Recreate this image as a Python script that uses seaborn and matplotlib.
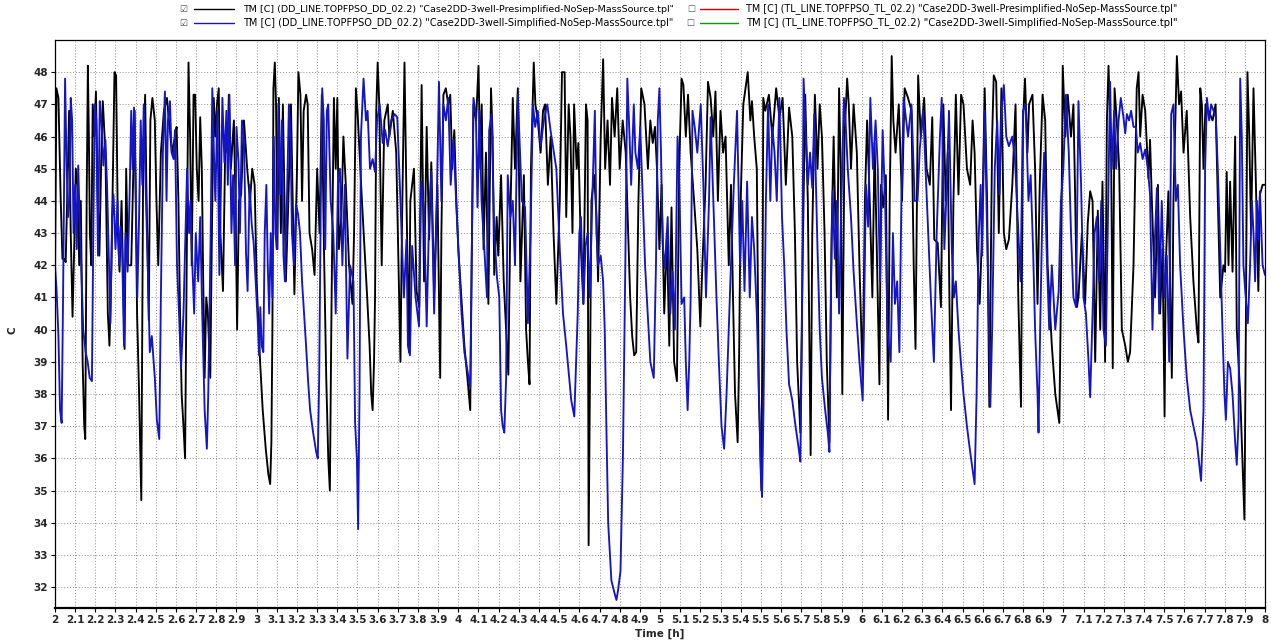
import numpy as np
import pandas as pd
import matplotlib
matplotlib.use("Agg")
import matplotlib.pyplot as plt
from matplotlib.lines import Line2D
import seaborn as sns

# ---------------- data (time [h], temperature [C]) ----------------
black_pts = [
    (2.000, 41.5), (2.007, 47.5), (2.017, 47.2), (2.028, 44.1), (2.037, 42.2), (2.045, 42.2), (2.053, 42.1),
    (2.062, 44.5), (2.070, 46.8), (2.078, 43.0), (2.087, 40.4), (2.095, 42.5), (2.103, 45.0), (2.112, 44.5),
    (2.120, 42.0), (2.128, 44.0), (2.137, 39.0), (2.145, 37.0), (2.150, 36.6), (2.157, 44.0), (2.163, 48.2),
    (2.168, 46.0), (2.173, 43.0), (2.180, 42.0), (2.187, 47.0), (2.195, 46.0), (2.203, 47.4), (2.212, 44.0),
    (2.220, 42.3), (2.230, 45.5), (2.237, 47.1), (2.250, 45.5), (2.262, 40.5), (2.270, 39.5), (2.280, 42.0),
    (2.295, 48.0), (2.303, 47.9), (2.312, 43.0), (2.320, 41.8), (2.330, 44.0), (2.345, 39.4), (2.353, 45.0),
    (2.362, 42.0), (2.378, 42.0), (2.395, 46.8), (2.407, 40.5), (2.417, 38.0), (2.428, 34.7), (2.437, 45.0),
    (2.447, 47.3), (2.453, 44.5), (2.465, 40.3), (2.473, 46.5), (2.483, 47.2), (2.495, 46.5), (2.503, 44.0),
    (2.512, 42.0), (2.525, 45.5), (2.540, 46.8), (2.555, 47.2), (2.565, 46.5), (2.580, 45.5), (2.595, 46.0),
    (2.603, 46.3), (2.612, 44.0), (2.620, 40.5), (2.628, 38.0), (2.637, 37.0), (2.645, 36.0), (2.653, 42.0),
    (2.662, 48.3), (2.670, 46.0), (2.678, 42.0), (2.687, 47.3), (2.695, 47.3), (2.703, 45.0), (2.712, 44.0),
    (2.720, 46.6), (2.728, 45.0), (2.735, 41.5), (2.742, 38.5), (2.750, 41.0), (2.758, 40.5), (2.770, 38.5),
    (2.778, 43.0), (2.787, 47.2), (2.795, 46.0), (2.803, 47.0), (2.812, 47.5), (2.820, 43.0), (2.833, 41.2),
    (2.845, 46.0), (2.855, 45.5), (2.862, 47.3), (2.872, 45.0), (2.887, 46.5), (2.895, 44.0), (2.903, 40.0),
    (2.912, 44.0), (2.923, 44.2), (2.937, 46.5), (2.953, 45.0), (2.967, 44.0), (2.978, 45.0), (2.990, 44.5),
    (3.000, 41.5), (3.017, 39.0), (3.030, 37.5), (3.045, 36.3), (3.058, 35.5), (3.067, 35.2), (3.073, 36.5),
    (3.078, 40.0), (3.083, 47.5), (3.090, 48.3), (3.096, 47.0), (3.103, 42.5), (3.110, 47.2), (3.120, 43.0),
    (3.130, 47.0), (3.145, 41.5), (3.157, 44.0), (3.170, 47.0), (3.187, 41.1), (3.200, 45.0), (3.207, 48.0),
    (3.217, 47.3), (3.225, 44.0), (3.233, 46.8), (3.245, 47.3), (3.253, 47.0), (3.262, 43.0), (3.275, 42.5),
    (3.287, 41.7), (3.300, 45.0), (3.312, 43.0), (3.323, 47.3), (3.333, 42.8), (3.345, 38.5), (3.355, 36.0),
    (3.363, 35.0), (3.370, 40.0), (3.375, 43.0), (3.383, 47.2), (3.392, 45.0), (3.400, 47.2), (3.408, 42.5),
    (3.420, 43.5), (3.430, 46.0), (3.442, 44.5), (3.458, 42.0), (3.475, 40.8), (3.483, 43.0), (3.492, 47.5),
    (3.500, 46.8), (3.510, 45.5), (3.522, 44.0), (3.535, 42.5), (3.548, 41.0), (3.560, 39.5), (3.568, 38.0),
    (3.575, 37.5), (3.582, 39.0), (3.587, 41.0), (3.593, 46.8), (3.600, 48.3), (3.608, 47.0), (3.620, 42.0),
    (3.633, 46.5), (3.650, 47.0), (3.658, 46.0), (3.675, 46.8), (3.692, 45.5), (3.700, 43.0), (3.713, 39.0),
    (3.720, 43.0), (3.733, 48.3), (3.743, 44.0), (3.755, 39.3), (3.762, 44.0), (3.780, 45.0), (3.793, 41.2),
    (3.806, 40.7), (3.818, 47.6), (3.830, 41.5), (3.843, 46.3), (3.855, 42.8), (3.866, 45.2), (3.880, 41.1),
    (3.896, 44.5), (3.910, 38.5), (3.916, 43.0), (3.926, 47.3), (3.938, 47.5), (3.950, 47.0), (3.960, 47.3),
    (3.970, 45.0), (3.980, 46.2), (3.990, 44.0), (4.000, 42.5), (4.015, 41.0), (4.030, 39.5), (4.045, 38.5),
    (4.059, 37.5), (4.066, 42.0), (4.075, 47.0), (4.088, 46.5), (4.100, 48.2), (4.109, 45.0), (4.116, 47.0),
    (4.125, 42.5), (4.137, 45.5), (4.149, 40.8), (4.162, 47.5), (4.170, 46.0), (4.178, 41.7), (4.190, 43.5),
    (4.198, 42.3), (4.212, 44.8), (4.225, 41.5), (4.237, 40.0), (4.248, 38.6), (4.258, 43.5), (4.270, 47.2),
    (4.281, 45.0), (4.295, 47.5), (4.308, 41.5), (4.325, 44.8), (4.336, 40.0), (4.345, 39.0), (4.353, 38.3),
    (4.360, 45.0), (4.374, 48.3), (4.382, 47.0), (4.394, 46.5), (4.408, 45.5), (4.420, 46.8), (4.430, 47.0),
    (4.444, 44.5), (4.458, 46.0), (4.472, 43.0), (4.486, 40.8), (4.503, 44.0), (4.514, 48.0), (4.527, 48.0),
    (4.535, 43.5), (4.547, 47.0), (4.556, 46.0), (4.566, 43.0), (4.574, 47.0), (4.587, 45.0), (4.595, 45.8),
    (4.608, 42.5), (4.620, 40.8), (4.633, 47.0), (4.641, 46.5), (4.646, 33.3), (4.652, 38.0), (4.660, 44.0),
    (4.674, 44.8), (4.685, 43.5), (4.693, 41.5), (4.706, 46.0), (4.718, 48.4), (4.728, 45.0), (4.740, 46.5),
    (4.752, 44.5), (4.762, 47.2), (4.775, 46.0), (4.788, 47.5), (4.800, 45.0), (4.815, 46.5), (4.830, 45.5),
    (4.842, 43.0), (4.852, 41.0), (4.862, 39.8), (4.872, 39.2), (4.882, 39.3), (4.893, 44.0), (4.907, 47.5),
    (4.923, 47.0), (4.940, 45.0), (4.952, 46.5), (4.964, 45.8), (4.975, 46.3), (4.985, 45.0), (4.997, 42.5),
    (5.008, 44.5), (5.021, 40.5), (5.034, 43.0), (5.046, 39.5), (5.057, 43.8), (5.070, 39.0), (5.084, 38.4),
    (5.095, 45.0), (5.107, 47.8), (5.116, 47.6), (5.128, 46.0), (5.139, 47.3), (5.152, 45.5), (5.169, 44.0),
    (5.185, 42.5), (5.200, 40.1), (5.210, 42.0), (5.226, 44.5), (5.238, 47.7), (5.251, 47.2), (5.264, 46.0),
    (5.275, 47.4), (5.287, 44.0), (5.300, 46.8), (5.313, 45.5), (5.325, 46.0), (5.341, 42.0), (5.352, 44.5),
    (5.362, 41.0), (5.372, 38.0), (5.385, 36.5), (5.392, 39.0), (5.400, 44.0), (5.413, 47.0), (5.424, 47.5),
    (5.435, 48.0), (5.448, 46.5), (5.456, 47.1), (5.467, 46.0), (5.480, 45.0), (5.490, 38.0), (5.503, 35.0),
    (5.508, 40.0), (5.512, 47.2), (5.522, 46.8), (5.540, 47.3), (5.557, 46.0), (5.576, 47.5), (5.592, 46.6),
    (5.608, 47.2), (5.624, 44.5), (5.640, 46.9), (5.656, 46.0), (5.669, 43.0), (5.680, 39.0), (5.696, 36.8),
    (5.707, 42.0), (5.720, 47.3), (5.733, 44.0), (5.747, 36.1), (5.755, 43.0), (5.768, 47.3), (5.781, 45.0),
    (5.792, 47.0), (5.803, 46.0), (5.816, 43.0), (5.827, 39.0), (5.840, 36.5), (5.851, 43.0), (5.861, 46.0),
    (5.877, 41.0), (5.888, 47.5), (5.896, 45.0), (5.904, 38.0), (5.915, 46.0), (5.928, 47.8), (5.936, 47.0),
    (5.947, 45.0), (5.960, 47.0), (5.976, 45.5), (5.989, 42.0), (6.005, 38.5), (6.016, 44.0), (6.027, 46.5),
    (6.040, 44.0), (6.053, 41.0), (6.064, 45.8), (6.075, 42.5), (6.088, 38.3), (6.096, 44.5), (6.107, 43.8),
    (6.120, 44.8), (6.131, 37.2), (6.139, 44.0), (6.149, 48.5), (6.157, 46.5), (6.168, 45.5), (6.184, 47.0),
    (6.200, 44.0), (6.213, 47.5), (6.230, 47.2), (6.247, 46.8), (6.258, 42.0), (6.267, 39.4), (6.280, 47.9),
    (6.293, 46.0), (6.310, 47.2), (6.322, 45.0), (6.338, 44.5), (6.350, 46.6), (6.360, 42.8), (6.377, 42.7),
    (6.393, 40.7), (6.405, 47.0), (6.417, 44.0), (6.427, 45.5), (6.435, 41.0), (6.443, 37.5), (6.455, 44.0),
    (6.467, 47.3), (6.480, 44.2), (6.493, 47.3), (6.505, 47.0), (6.522, 45.0), (6.538, 44.5), (6.550, 46.5),
    (6.560, 45.5), (6.572, 42.5), (6.585, 40.8), (6.597, 43.0), (6.610, 47.5), (6.622, 44.0), (6.633, 37.6),
    (6.647, 46.0), (6.655, 47.9), (6.667, 47.7), (6.680, 43.0), (6.693, 47.5), (6.705, 43.0), (6.717, 42.5),
    (6.730, 42.8), (6.747, 44.5), (6.763, 47.0), (6.777, 40.9), (6.790, 37.6), (6.800, 46.5), (6.810, 47.8),
    (6.822, 45.5), (6.830, 47.0), (6.847, 47.3), (6.860, 45.0), (6.872, 40.8), (6.883, 44.5), (6.897, 47.3),
    (6.910, 46.5), (6.922, 42.0), (6.943, 39.5), (6.960, 38.0), (6.980, 37.1), (6.988, 41.0), (6.997, 48.2),
    (7.010, 46.0), (7.022, 47.3), (7.038, 46.0), (7.050, 47.0), (7.059, 44.0), (7.067, 40.7), (7.075, 41.0),
    (7.092, 43.0), (7.108, 40.8), (7.121, 43.3), (7.133, 44.3), (7.145, 44.0), (7.158, 39.0), (7.171, 43.7),
    (7.183, 40.0), (7.194, 44.6), (7.207, 39.0), (7.216, 46.5), (7.224, 48.2), (7.237, 45.5), (7.245, 38.8),
    (7.254, 47.5), (7.265, 46.5), (7.277, 45.0), (7.290, 40.0), (7.307, 39.5), (7.320, 39.0), (7.331, 39.3),
    (7.348, 42.0), (7.364, 47.5), (7.373, 48.0), (7.381, 46.0), (7.393, 47.3), (7.406, 46.8), (7.422, 44.7),
    (7.430, 45.9), (7.439, 44.0), (7.455, 41.0), (7.469, 44.5), (7.480, 40.5), (7.492, 42.5), (7.502, 37.3),
    (7.508, 42.0), (7.521, 44.3), (7.538, 38.5), (7.546, 44.0), (7.563, 48.5), (7.574, 47.0), (7.584, 47.4),
    (7.596, 45.5), (7.612, 46.8), (7.629, 43.5), (7.645, 41.5), (7.662, 40.0), (7.670, 39.6), (7.679, 47.5),
    (7.687, 47.0), (7.695, 45.0), (7.705, 47.0), (7.720, 46.8), (7.740, 46.5), (7.755, 47.0), (7.765, 44.3),
    (7.778, 41.0), (7.794, 42.0), (7.802, 41.8), (7.810, 44.9), (7.819, 42.0), (7.827, 44.6), (7.839, 41.8),
    (7.852, 46.0), (7.860, 40.0), (7.877, 38.0), (7.898, 34.1), (7.905, 40.0), (7.913, 48.0), (7.922, 46.0),
    (7.931, 43.0), (7.943, 47.5), (7.955, 44.5), (7.967, 41.2), (7.975, 44.2), (7.988, 44.5), (8.000, 44.5),
]

blue_pts = [
    (2.000, 42.0), (2.008, 41.2), (2.017, 39.8), (2.025, 37.5), (2.033, 37.1), (2.040, 41.0), (2.045, 44.5),
    (2.050, 47.8), (2.058, 45.0), (2.065, 43.5), (2.072, 44.0), (2.078, 47.2), (2.085, 46.5), (2.092, 43.0),
    (2.100, 44.5), (2.108, 42.5), (2.115, 45.1), (2.122, 43.5), (2.130, 42.0), (2.140, 40.0), (2.152, 39.3),
    (2.162, 39.0), (2.172, 38.5), (2.183, 38.4), (2.190, 43.0), (2.197, 47.0), (2.205, 46.5), (2.213, 42.3),
    (2.222, 47.1), (2.230, 46.5), (2.240, 45.1), (2.250, 45.9), (2.258, 44.5), (2.268, 42.0), (2.275, 40.2),
    (2.283, 43.5), (2.290, 44.2), (2.300, 42.5), (2.310, 44.0), (2.318, 42.0), (2.325, 43.2), (2.333, 42.5),
    (2.342, 39.5), (2.350, 43.0), (2.360, 41.8), (2.370, 44.2), (2.378, 46.8), (2.385, 45.0), (2.392, 46.9),
    (2.400, 44.5), (2.408, 41.0), (2.417, 43.5), (2.425, 46.5), (2.433, 44.5), (2.440, 47.0), (2.450, 44.3),
    (2.460, 42.0), (2.470, 39.3), (2.480, 39.8), (2.495, 38.5), (2.505, 37.2), (2.517, 36.6), (2.525, 41.0),
    (2.535, 45.5), (2.545, 47.4), (2.553, 44.0), (2.560, 46.5), (2.570, 47.1), (2.578, 45.5), (2.588, 45.3),
    (2.595, 46.2), (2.605, 42.0), (2.615, 40.5), (2.625, 38.8), (2.637, 40.5), (2.645, 42.5), (2.655, 45.0),
    (2.665, 43.0), (2.672, 44.0), (2.680, 42.2), (2.690, 40.5), (2.698, 43.0), (2.710, 41.5), (2.720, 43.5),
    (2.730, 40.5), (2.742, 37.5), (2.753, 36.3), (2.760, 38.0), (2.765, 40.0), (2.772, 43.0), (2.780, 47.5),
    (2.788, 45.5), (2.795, 44.0), (2.805, 46.8), (2.815, 41.7), (2.823, 44.5), (2.830, 47.2), (2.840, 45.2),
    (2.850, 46.8), (2.857, 44.5), (2.865, 47.3), (2.875, 43.0), (2.883, 44.8), (2.893, 42.0), (2.900, 46.3),
    (2.910, 45.2), (2.917, 43.0), (2.927, 46.5), (2.937, 46.0), (2.947, 42.4), (2.955, 41.2), (2.965, 44.5),
    (2.975, 43.3), (2.985, 42.7), (2.995, 41.5), (3.005, 40.3), (3.012, 39.2), (3.018, 40.7), (3.025, 39.5),
    (3.033, 39.3), (3.040, 43.0), (3.048, 44.5), (3.055, 42.0), (3.062, 40.5), (3.070, 43.0), (3.078, 41.0),
    (3.085, 46.0), (3.093, 43.0), (3.100, 42.5), (3.108, 47.0), (3.117, 44.2), (3.125, 46.5), (3.133, 42.3),
    (3.140, 41.5), (3.150, 44.0), (3.160, 47.0), (3.168, 46.0), (3.175, 43.0), (3.185, 42.0), (3.195, 43.9),
    (3.205, 43.6), (3.215, 43.0), (3.225, 41.5), (3.235, 40.5), (3.245, 39.5), (3.255, 38.4), (3.265, 37.5),
    (3.280, 36.8), (3.295, 36.2), (3.303, 36.0), (3.310, 38.5), (3.318, 44.0), (3.325, 47.5), (3.333, 46.5),
    (3.340, 42.5), (3.348, 46.8), (3.355, 47.0), (3.367, 44.0), (3.380, 43.0), (3.392, 40.5), (3.403, 44.5),
    (3.413, 45.0), (3.425, 42.0), (3.437, 44.5), (3.450, 39.1), (3.463, 42.0), (3.480, 41.5), (3.488, 37.1),
    (3.497, 36.0), (3.503, 33.8), (3.510, 38.0), (3.517, 46.0), (3.530, 47.8), (3.542, 46.5), (3.550, 46.8),
    (3.562, 45.0), (3.575, 45.3), (3.587, 44.9), (3.597, 46.5), (3.610, 47.0), (3.625, 45.8), (3.637, 46.2),
    (3.650, 45.7), (3.667, 46.5), (3.683, 46.7), (3.697, 46.6), (3.713, 44.0), (3.730, 41.0), (3.743, 42.8),
    (3.750, 39.5), (3.760, 39.2), (3.771, 42.6), (3.788, 41.0), (3.805, 40.1), (3.816, 44.6), (3.830, 43.7),
    (3.843, 40.1), (3.855, 43.5), (3.866, 44.9), (3.880, 40.5), (3.893, 44.0), (3.904, 47.7), (3.916, 44.0),
    (3.926, 47.0), (3.938, 46.5), (3.950, 47.2), (3.962, 44.5), (3.976, 45.9), (3.987, 44.3), (4.004, 42.0),
    (4.016, 40.5), (4.030, 39.3), (4.046, 38.7), (4.059, 38.2), (4.067, 42.5), (4.075, 47.2), (4.087, 46.7),
    (4.095, 43.8), (4.105, 46.8), (4.115, 44.0), (4.129, 42.5), (4.142, 41.0), (4.153, 46.2), (4.165, 46.7),
    (4.178, 43.0), (4.192, 41.6), (4.203, 41.0), (4.212, 37.5), (4.220, 37.0), (4.228, 36.8), (4.237, 38.5),
    (4.245, 44.8), (4.258, 43.5), (4.270, 44.0), (4.281, 42.0), (4.295, 47.3), (4.315, 44.0), (4.331, 43.8),
    (4.345, 40.2), (4.358, 43.0), (4.370, 47.0), (4.381, 46.3), (4.394, 46.8), (4.408, 45.7), (4.424, 46.5),
    (4.441, 47.0), (4.457, 46.2), (4.474, 45.5), (4.486, 45.0), (4.503, 42.5), (4.519, 40.5), (4.535, 39.5),
    (4.560, 37.8), (4.575, 37.3), (4.592, 40.5), (4.600, 43.0), (4.608, 43.5), (4.620, 40.8), (4.631, 42.6),
    (4.641, 43.0), (4.652, 41.0), (4.664, 44.0), (4.677, 46.8), (4.685, 43.0), (4.693, 42.0), (4.706, 42.3),
    (4.718, 41.5), (4.726, 40.0), (4.734, 37.0), (4.743, 34.0), (4.759, 32.2), (4.775, 31.8), (4.784, 31.6),
    (4.792, 31.9), (4.804, 32.5), (4.816, 36.0), (4.828, 42.0), (4.838, 47.8), (4.849, 46.0), (4.857, 44.5),
    (4.870, 47.0), (4.878, 45.5), (4.890, 45.0), (4.902, 46.3), (4.915, 44.0), (4.926, 42.0), (4.939, 40.5),
    (4.952, 39.0), (4.969, 38.5), (4.980, 42.0), (4.989, 46.5), (4.997, 47.5), (5.005, 45.5), (5.013, 42.7),
    (5.025, 41.9), (5.038, 43.5), (5.051, 40.5), (5.062, 41.8), (5.074, 40.0), (5.087, 46.0), (5.095, 44.8),
    (5.107, 40.8), (5.120, 41.0), (5.128, 39.0), (5.137, 37.5), (5.145, 39.0), (5.152, 41.0), (5.161, 46.8),
    (5.172, 46.3), (5.185, 45.5), (5.202, 47.0), (5.215, 44.5), (5.228, 41.0), (5.243, 44.0), (5.251, 46.6),
    (5.267, 43.5), (5.280, 41.0), (5.292, 39.0), (5.305, 37.0), (5.318, 36.3), (5.330, 38.0), (5.349, 41.5),
    (5.366, 44.5), (5.382, 46.8), (5.397, 42.0), (5.408, 44.0), (5.419, 41.2), (5.432, 44.6), (5.445, 41.0),
    (5.456, 43.5), (5.467, 42.5), (5.480, 40.5), (5.493, 37.5), (5.500, 35.5), (5.506, 34.8), (5.513, 37.5),
    (5.525, 44.0), (5.536, 47.0), (5.547, 44.0), (5.557, 46.3), (5.568, 45.5), (5.579, 44.0), (5.592, 47.2),
    (5.605, 43.5), (5.616, 42.0), (5.627, 40.0), (5.640, 38.3), (5.656, 37.8), (5.672, 37.0), (5.688, 36.3),
    (5.696, 35.9), (5.704, 40.0), (5.712, 47.8), (5.723, 46.0), (5.733, 44.5), (5.744, 45.5), (5.755, 44.4),
    (5.765, 46.7), (5.781, 42.5), (5.792, 40.0), (5.803, 38.5), (5.819, 37.5), (5.832, 36.8), (5.840, 36.2),
    (5.848, 41.5), (5.856, 44.3), (5.867, 42.2), (5.877, 44.0), (5.888, 40.5), (5.899, 43.9), (5.912, 47.2),
    (5.920, 46.5), (5.931, 45.0), (5.947, 43.5), (5.960, 41.8), (5.973, 40.5), (5.989, 39.0), (6.005, 37.8),
    (6.011, 40.0), (6.021, 44.5), (6.032, 43.2), (6.043, 47.2), (6.056, 45.0), (6.069, 46.5), (6.080, 45.0),
    (6.091, 41.5), (6.104, 46.2), (6.117, 43.8), (6.128, 40.0), (6.144, 39.0), (6.155, 43.0), (6.165, 40.8),
    (6.176, 41.5), (6.187, 39.3), (6.197, 44.0), (6.208, 47.2), (6.230, 46.0), (6.247, 47.0), (6.263, 44.0),
    (6.277, 44.0), (6.288, 45.6), (6.305, 46.8), (6.317, 45.0), (6.330, 43.0), (6.343, 41.0), (6.358, 39.0),
    (6.372, 43.0), (6.388, 46.0), (6.397, 47.2), (6.410, 42.5), (6.422, 44.5), (6.433, 46.8), (6.447, 42.5),
    (6.457, 41.0), (6.467, 41.5), (6.480, 40.0), (6.493, 38.9), (6.505, 38.0), (6.522, 37.0), (6.538, 36.2),
    (6.560, 35.2), (6.570, 38.0), (6.580, 42.8), (6.590, 44.5), (6.597, 42.3), (6.610, 46.8), (6.622, 43.0),
    (6.630, 40.7), (6.638, 37.6), (6.647, 40.0), (6.660, 45.0), (6.672, 46.5), (6.683, 44.2), (6.693, 46.8),
    (6.705, 47.6), (6.717, 46.0), (6.730, 45.7), (6.747, 46.0), (6.760, 45.3), (6.777, 43.0), (6.788, 41.5),
    (6.800, 46.8), (6.813, 47.0), (6.827, 44.0), (6.838, 44.8), (6.850, 42.5), (6.860, 40.0), (6.872, 38.0),
    (6.877, 36.8), (6.885, 40.0), (6.897, 44.0), (6.905, 45.5), (6.917, 42.5), (6.930, 40.0), (6.943, 42.0),
    (6.960, 40.0), (6.977, 41.2), (6.988, 44.0), (7.000, 45.0), (7.013, 47.3), (7.027, 45.5), (7.038, 43.0),
    (7.050, 41.0), (7.063, 40.7), (7.075, 47.1), (7.088, 44.5), (7.100, 41.0), (7.112, 40.5), (7.125, 39.0),
    (7.133, 37.9), (7.145, 40.5), (7.155, 43.0), (7.166, 43.5), (7.178, 41.5), (7.188, 44.0), (7.199, 40.0),
    (7.211, 39.5), (7.221, 43.5), (7.232, 47.7), (7.240, 45.0), (7.252, 46.8), (7.262, 45.0), (7.274, 46.5),
    (7.285, 47.2), (7.298, 46.6), (7.307, 46.1), (7.315, 46.7), (7.326, 46.5), (7.336, 46.8), (7.348, 46.3),
    (7.360, 46.3), (7.369, 45.5), (7.381, 45.8), (7.393, 45.3), (7.406, 45.6), (7.419, 45.0), (7.430, 44.2),
    (7.442, 40.0), (7.452, 42.5), (7.464, 44.4), (7.475, 40.5), (7.488, 44.0), (7.502, 41.0), (7.513, 42.3),
    (7.525, 39.0), (7.535, 46.7), (7.546, 47.0), (7.558, 44.0), (7.568, 44.5), (7.579, 42.0), (7.596, 40.0),
    (7.612, 38.5), (7.629, 37.5), (7.645, 37.0), (7.662, 36.5), (7.674, 35.8), (7.683, 35.3), (7.695, 37.5),
    (7.703, 45.0), (7.712, 47.2), (7.723, 46.5), (7.733, 47.0), (7.745, 46.8), (7.756, 46.6), (7.766, 45.0),
    (7.778, 42.5), (7.789, 40.0), (7.799, 38.0), (7.806, 37.2), (7.816, 39.0), (7.827, 38.8), (7.839, 38.0),
    (7.852, 36.5), (7.860, 35.8), (7.869, 37.2), (7.877, 47.8), (7.885, 46.0), (7.893, 42.0), (7.902, 41.2),
    (7.915, 40.2), (7.926, 42.0), (7.935, 44.0), (7.943, 43.0), (7.951, 41.5), (7.960, 44.0), (7.967, 42.8),
    (7.975, 44.3), (7.988, 42.0), (8.000, 41.7),
]

black_time = [p[0] for p in black_pts]
black_temp = [p[1] for p in black_pts]
blue_time = [p[0] for p in blue_pts]
blue_temp = [p[1] for p in blue_pts]

legend_labels = [
    'TM [C] (DD_LINE.TOPFPSO_DD_02.2) "Case2DD-3well-Presimplified-NoSep-MassSource.tpl"',
    'TM [C] (DD_LINE.TOPFPSO_DD_02.2) "Case2DD-3well-Simplified-NoSep-MassSource.tpl"',
    'TM [C] (TL_LINE.TOPFPSO_TL_02.2) "Case2DD-3well-Presimplified-NoSep-MassSource.tpl"',
    'TM [C] (TL_LINE.TOPFPSO_TL_02.2) "Case2DD-3well-Simplified-NoSep-MassSource.tpl"',
]
legend_checked = [True, True, False, False]
legend_colors = ["#000000", "#1515c8", "#c00000", "#00a000"]

x_ticks = [round(2 + 0.1 * i, 1) for i in range(61)]
y_ticks = list(range(32, 49))

# ---------------- plotting ----------------
sns.set_theme(style="white")
plt.rcParams["font.family"] = ["DejaVu Sans"]

W, H = 1271, 641
fig = plt.figure(figsize=(W / 100, H / 100), dpi=100)
ax = fig.add_axes([55 / W, 1 - 608 / H, (1265 - 55) / W, (608 - 40) / H])

df_black = pd.DataFrame({"t": black_time, "v": black_temp})
df_blue = pd.DataFrame({"t": blue_time, "v": blue_temp})
sns.lineplot(data=df_black, x="t", y="v", ax=ax, color="#000000", linewidth=1.35,
             sort=False, estimator=None)
sns.lineplot(data=df_blue, x="t", y="v", ax=ax, color="#1515c8", linewidth=1.35,
             sort=False, estimator=None)

ax.set_xlim(2, 8)
ax.set_ylim(31.35, 49.0)
ax.set_xticks(x_ticks)
ax.set_xticklabels(["%g" % t for t in x_ticks])
ax.set_yticks(y_ticks)
ax.set_yticklabels([str(v) for v in y_ticks])
ax.tick_params(axis="both", labelsize=7.5, length=3, width=0.8, color="black",
               direction="out", pad=2, bottom=True, left=True)
for lab in ax.get_xticklabels() + ax.get_yticklabels():
    lab.set_fontweight("bold")
ax.grid(True, color="#8c8c8c", linestyle=(0, (1, 2)), linewidth=0.7)
for s in ax.spines.values():
    s.set_color("black")
    s.set_linewidth(0.9)
ax.spines["bottom"].set_linewidth(1.6)
ax.set_xlabel("")
ax.set_ylabel("")

fig.text(660 / W, 1 - 634 / H, "Time [h]", ha="center", va="center", fontsize=7.5, fontweight="bold")
fig.text(12 / W, 1 - 330 / H, "C", ha="center", va="center", rotation=90, fontsize=7.5, fontweight="bold")

# legend rows (two columns of check-box entries)
entries = [
    (183, 9, 194, 234, 243),
    (183, 23, 194, 234, 243),
    (691, 9, 700, 738, 746),
    (690, 23, 700, 738, 746),
]
for (cx, cy, lx0, lx1, tx), lab, chk, col in zip(entries, legend_labels, legend_checked, legend_colors):
    fig.text(cx / W, 1 - cy / H, "\u2611" if chk else "\u2610", ha="center", va="center",
             fontsize=6.5, color="#555555")
    fig.add_artist(Line2D([lx0 / W, lx1 / W], [1 - cy / H, 1 - cy / H], color=col,
                          linewidth=1.0, transform=fig.transFigure))
    fig.text(tx / W, 1 - cy / H, lab, ha="left", va="center", fontsize=7, color="black")

fig.canvas.draw()
r = fig.canvas.get_renderer()
for txt in fig.texts:
    s = txt.get_text()
    if s.startswith("TM"):
        w = txt.get_window_extent(renderer=r).width
        txt.set_fontsize(7 * 435.0 / w)

fig.savefig("out.png", dpi=100, facecolor="white")
